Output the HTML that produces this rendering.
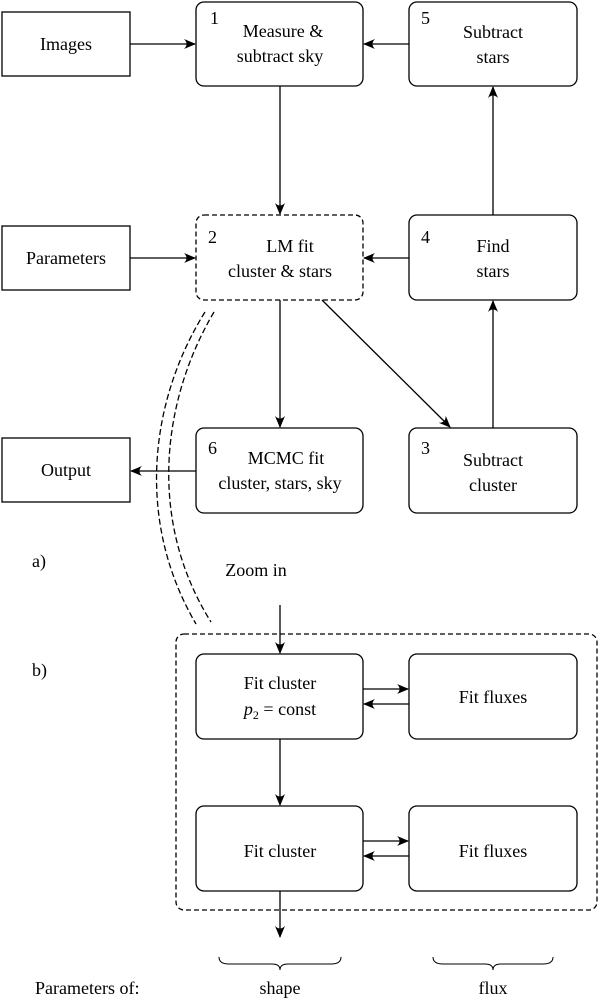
<!DOCTYPE html>
<html><head><meta charset="utf-8"><style>
html,body{margin:0;padding:0;background:#fff;}
svg{display:block;}
text{font-family:"Liberation Serif","DejaVu Serif",serif;font-size:18px;fill:#000;}
</style></head><body>
<svg width="600" height="999" viewBox="0 0 600 999" xmlns="http://www.w3.org/2000/svg" font-family="Liberation Serif, DejaVu Serif, serif">
<defs>
<marker id="a" markerWidth="12" markerHeight="10" refX="11" refY="5" orient="auto" markerUnits="userSpaceOnUse">
<path d="M0,0 Q5,5 0,10 L12,5 Z" fill="#000"/>
</marker>
</defs>
<g fill="none" stroke="#000" stroke-width="1.3">
<rect x="2" y="12" width="128" height="64"/>
<rect x="196" y="2" width="167" height="84" rx="8"/>
<rect x="409" y="2" width="168" height="84" rx="8"/>
<rect x="2" y="226" width="128" height="64"/>
<rect x="196" y="215" width="167" height="85" rx="8" stroke-dasharray="5,3"/>
<rect x="409" y="215" width="168" height="85" rx="8"/>
<rect x="2" y="438" width="128" height="64"/>
<rect x="196" y="428" width="167" height="85" rx="8"/>
<rect x="409" y="428" width="168" height="85" rx="8"/>
<rect x="176" y="634" width="421" height="276" rx="8" stroke-dasharray="5,3"/>
<rect x="196" y="654" width="167" height="85" rx="8"/>
<rect x="409" y="654" width="168" height="85" rx="8"/>
<rect x="196" y="806" width="167" height="85" rx="8"/>
<rect x="409" y="806" width="168" height="85" rx="8"/>
<path d="M205,312 C150,400 135,520 196,624" stroke-dasharray="6,3"/>
<path d="M214,312 C162,400 147,520 211,622" stroke-dasharray="6,3"/>
<g marker-end="url(#a)">
<line x1="130" y1="44" x2="195" y2="44"/>
<line x1="409" y1="44" x2="364" y2="44"/>
<line x1="280" y1="86" x2="280" y2="214"/>
<line x1="493" y1="215" x2="493" y2="87"/>
<line x1="130" y1="258" x2="195" y2="258"/>
<line x1="409" y1="258" x2="364" y2="258"/>
<line x1="280" y1="300" x2="280" y2="427"/>
<line x1="322" y1="300" x2="450" y2="427"/>
<line x1="493" y1="428" x2="493" y2="301"/>
<line x1="196" y1="471" x2="131" y2="471"/>
<line x1="280" y1="605" x2="280" y2="653"/>
<line x1="363" y1="689" x2="408" y2="689"/>
<line x1="409" y1="704" x2="364" y2="704"/>
<line x1="280" y1="739" x2="280" y2="805"/>
<line x1="363" y1="841" x2="408" y2="841"/>
<line x1="409" y1="856" x2="364" y2="856"/>
<line x1="280" y1="891" x2="280" y2="937"/>
</g>
<path d="M219,957 Q219,964 229,964 L272,964 Q280,964 280,970 Q280,964 288,964 L331,964 Q341,964 341,957" stroke-width="1"/>
<path d="M433,957 Q433,964 443,964 L485,964 Q493,964 493,970 Q493,964 501,964 L543,964 Q553,964 553,957" stroke-width="1"/>
</g>
<g text-anchor="middle">
<text x="66" y="50">Images</text>
<text x="283" y="37">Measure &amp;</text>
<text x="280" y="62">subtract sky</text>
<text x="493" y="38">Subtract</text>
<text x="493" y="63">stars</text>
<text x="66" y="264">Parameters</text>
<text x="290" y="252">LM fit</text>
<text x="280" y="277">cluster &amp; stars</text>
<text x="493" y="252">Find</text>
<text x="493" y="277">stars</text>
<text x="66" y="476">Output</text>
<text x="286" y="464">MCMC fit</text>
<text x="280" y="489">cluster, stars, sky</text>
<text x="493" y="466">Subtract</text>
<text x="493" y="491">cluster</text>
<text x="256" y="576">Zoom in</text>
<text x="280" y="689">Fit cluster</text>
<text x="280" y="715"><tspan font-style="italic">p</tspan><tspan font-size="12" dy="4">2</tspan><tspan dy="-4"> = const</tspan></text>
<text x="493" y="703">Fit fluxes</text>
<text x="280" y="857">Fit cluster</text>
<text x="493" y="857">Fit fluxes</text>
<text x="280" y="994">shape</text>
<text x="493" y="994">flux</text>
</g>
<text x="210" y="24">1</text>
<text x="421" y="24">5</text>
<text x="208" y="243">2</text>
<text x="421" y="243">4</text>
<text x="208" y="454">6</text>
<text x="421" y="454">3</text>
<text x="32" y="567">a)</text>
<text x="32" y="676">b)</text>
<text x="35" y="994">Parameters of:</text>
</svg>
</body></html>
